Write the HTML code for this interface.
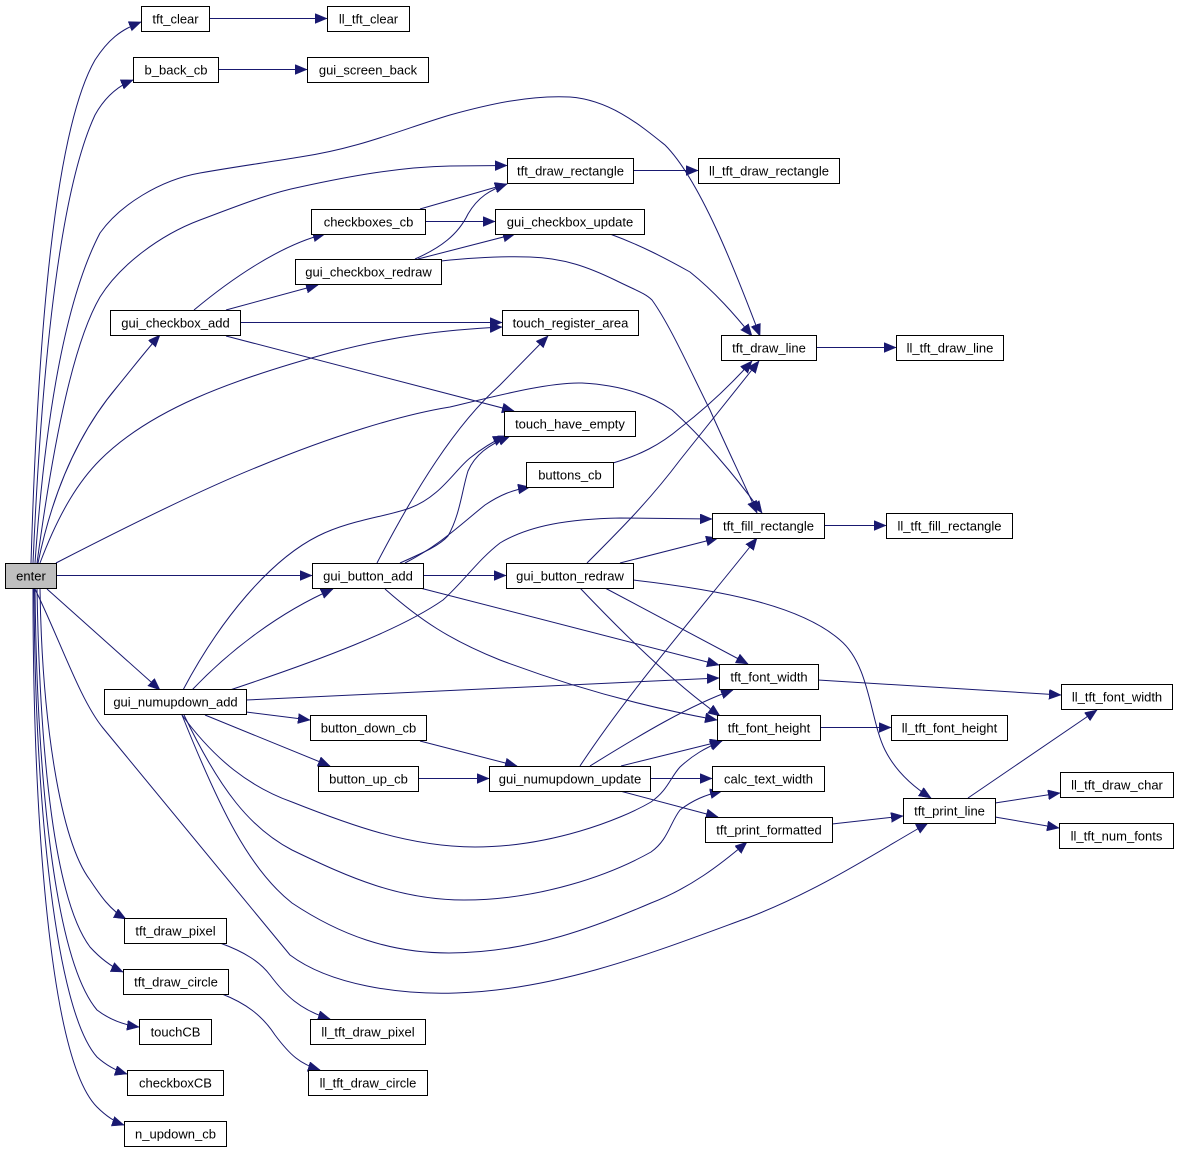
<!DOCTYPE html>
<html><head><meta charset="utf-8"><style>
html,body{margin:0;padding:0;background:#fff;}
svg{display:block;}
.e path{fill:none;stroke:#191970;stroke-width:1;}
.n rect{fill:#fff;stroke:#000;stroke-width:1;}
.n text{font-family:"Liberation Sans",Arial,sans-serif;font-size:13px;text-anchor:middle;fill:#000;}
</style></head><body>
<svg width="1179" height="1152" viewBox="0 0 1179 1152" xmlns="http://www.w3.org/2000/svg">
<defs>
<marker id="a" markerUnits="userSpaceOnUse" markerWidth="14" markerHeight="12" refX="12" refY="5" orient="auto">
<path d="M0,0 L12,5 L0,10 z" fill="#191970" stroke="#191970" stroke-width="0.5"/>
</marker>
</defs>
<rect width="1179" height="1152" fill="#fff"/>
<g class="e">
<path marker-end="url(#a)" d="M209,18.5 L327,18.5"/>
<path marker-end="url(#a)" d="M218,69.5 L307,69.5"/>
<path marker-end="url(#a)" d="M633,170.5 L698,170.5"/>
<path marker-end="url(#a)" d="M425,221.5 L495,221.5"/>
<path marker-end="url(#a)" d="M240,322.5 L502,322.5"/>
<path marker-end="url(#a)" d="M816,347.5 L896,347.5"/>
<path marker-end="url(#a)" d="M824,525.5 L886,525.5"/>
<path marker-end="url(#a)" d="M56,575.5 L312,575.5"/>
<path marker-end="url(#a)" d="M423,575.5 L506,575.5"/>
<path marker-end="url(#a)" d="M820,727.5 L891,727.5"/>
<path marker-end="url(#a)" d="M418,778.5 L489,778.5"/>
<path marker-end="url(#a)" d="M650,778.5 L712,778.5"/>
<path marker-end="url(#a)" d="M818,680 L1061,695"/>
<path marker-end="url(#a)" d="M968,798 L1097,710"/>
<path marker-end="url(#a)" d="M995,803 L1060,793"/>
<path marker-end="url(#a)" d="M995,817 L1059,828"/>
<path marker-end="url(#a)" d="M832,824 L903,816"/>
<path marker-end="url(#a)" d="M620,791 L718,817"/>
<path marker-end="url(#a)" d="M621,766 L722,741"/>
<path marker-end="url(#a)" d="M590,766 C640,735 690,705 733,690"/>
<path marker-end="url(#a)" d="M580,766 C630,690 700,610 757,538"/>
<path marker-end="url(#a)" d="M420,741 L517,766"/>
<path marker-end="url(#a)" d="M246,712 L310,720"/>
<path marker-end="url(#a)" d="M205,715 L330,766"/>
<path marker-end="url(#a)" d="M246,700 L719,678"/>
<path marker-end="url(#a)" d="M192,690 C230,650 280,612 333,589"/>
<path marker-end="url(#a)" d="M230,690 C320,660 400,630 443,600 C465,580 478,560 500,543 C530,525 570,519 620,518 L712,519"/>
<path marker-end="url(#a)" d="M183,690 C220,620 270,560 318,536 C350,520 385,517 410,508 C440,497 455,470 470,458 C480,450 492,442 505,436"/>
<path marker-end="url(#a)" d="M377,563 C415,490 455,425 500,385 L548,336"/>
<path marker-end="url(#a)" d="M400,563 C425,552 440,545 448,536 C460,515 462,490 468,471 C475,455 488,445 510,436"/>
<path marker-end="url(#a)" d="M405,563 C440,545 460,525 485,505 C500,495 512,490 530,487"/>
<path marker-end="url(#a)" d="M420,588 L719,665"/>
<path marker-end="url(#a)" d="M385,589 C420,620 450,640 500,660 C580,690 650,708 717,720"/>
<path marker-end="url(#a)" d="M620,563 L718,538"/>
<path marker-end="url(#a)" d="M587,563 C620,530 650,500 680,460 L759,361"/>
<path marker-end="url(#a)" d="M613,463 C640,455 660,445 680,428 C710,405 735,380 752,361"/>
<path marker-end="url(#a)" d="M605,588 L748,664"/>
<path marker-end="url(#a)" d="M580,588 C620,630 670,680 720,716"/>
<path marker-end="url(#a)" d="M633,580 C720,590 800,605 840,640 C870,665 870,720 885,750 C895,770 912,786 931,798"/>
<path marker-end="url(#a)" d="M194,310 C230,280 280,245 325,234"/>
<path marker-end="url(#a)" d="M226,310 L318,285"/>
<path marker-end="url(#a)" d="M226,336 L514,411"/>
<path marker-end="url(#a)" d="M420,209 L507,184"/>
<path marker-end="url(#a)" d="M415,259 C440,248 458,235 468,214 C478,197 490,190 507,184"/>
<path marker-end="url(#a)" d="M418,259 L515,234"/>
<path marker-end="url(#a)" d="M441,261 C470,258 500,256 530,257 C565,258 590,268 615,280 C635,290 645,293 652,300 C670,325 690,370 710,410 C730,455 745,485 757,513"/>
<path marker-end="url(#a)" d="M610,234 C640,245 665,258 690,272 C715,292 735,315 752,336"/>
<path marker-end="url(#a)" d="M31,563 C38,330 55,130 95,60 C108,40 120,30 141,22"/>
<path marker-end="url(#a)" d="M33,563 C42,360 60,190 95,115 C105,97 118,86 133,80"/>
<path marker-end="url(#a)" d="M35,563 C45,420 65,300 100,233 C120,205 160,180 200,173 C240,166 270,162 300,157 C360,148 400,130 450,115 C490,104 530,95 570,97 C610,100 640,125 665,145 C700,180 735,270 760,336"/>
<path marker-end="url(#a)" d="M37,563 C55,430 75,340 100,297 C120,265 160,235 200,220 C240,205 270,193 300,187 C350,176 400,167 450,166 L507,165.5"/>
<path marker-end="url(#a)" d="M38,563 C55,480 85,425 117,387 C135,365 148,348 160,335"/>
<path marker-end="url(#a)" d="M40,563 C60,510 80,480 100,460 C150,410 230,380 333,352 C390,337 440,330 502,327"/>
<path marker-end="url(#a)" d="M56,563 C120,530 200,490 260,466 C330,437 400,415 450,407 C500,395 550,382 582,383 C620,385 650,395 672,410 C700,435 735,475 762,513"/>
<path marker-end="url(#a)" d="M47,589 L160,690"/>
<path marker-end="url(#a)" d="M35,589 C60,640 80,700 103,728 L290,955 C330,985 400,995 456,993 C560,990 660,950 750,917 C820,890 880,850 928,823"/>
<path marker-end="url(#a)" d="M40,589 C42,720 60,840 90,880 C100,895 110,910 126,919"/>
<path marker-end="url(#a)" d="M37,589 C40,760 55,900 90,947 C100,958 110,966 123,972"/>
<path marker-end="url(#a)" d="M35,589 C37,780 55,960 97,1010 C110,1020 125,1025 139,1027"/>
<path marker-end="url(#a)" d="M34,589 C35,800 55,1010 97,1057 C107,1066 117,1071 127,1074"/>
<path marker-end="url(#a)" d="M33,589 C33,820 50,1060 97,1107 C107,1117 115,1122 124,1125"/>
<path marker-end="url(#a)" d="M220,943 C245,952 260,962 270,975 C285,995 300,1010 330,1019"/>
<path marker-end="url(#a)" d="M222,994 C245,1003 262,1015 275,1035 C290,1055 300,1064 320,1070"/>
<path marker-end="url(#a)" d="M182,715 C215,760 250,787 292,802 C350,825 410,847 475,847 C550,847 620,820 651,802 C668,790 670,778 680,767 C693,755 705,748 722,741"/>
<path marker-end="url(#a)" d="M184,715 C220,790 250,828 292,850 C350,878 400,900 464,900 C540,900 610,875 651,852 C668,840 670,823 680,810 C693,800 705,795 722,791"/>
<path marker-end="url(#a)" d="M182,715 C220,810 250,870 292,903 C340,935 390,953 449,953 C530,953 600,925 651,903 C690,888 720,865 747,842"/>
</g>
<g class="n">
<rect x="141.5" y="6.5" width="68" height="25"/><text x="175.5" y="23.5">tft_clear</text>
<rect x="327.5" y="6.5" width="82" height="25"/><text x="368.5" y="23.5">ll_tft_clear</text>
<rect x="133.5" y="57.5" width="85" height="25"/><text x="176" y="74.5">b_back_cb</text>
<rect x="307.5" y="57.5" width="121" height="25"/><text x="368" y="74.5">gui_screen_back</text>
<rect x="507.5" y="158.5" width="126" height="25"/><text x="570.5" y="175.5">tft_draw_rectangle</text>
<rect x="698.5" y="158.5" width="141" height="25"/><text x="769" y="175.5">ll_tft_draw_rectangle</text>
<rect x="311.5" y="209.5" width="114" height="25"/><text x="368.5" y="226.5">checkboxes_cb</text>
<rect x="495.5" y="209.5" width="149" height="25"/><text x="570" y="226.5">gui_checkbox_update</text>
<rect x="295.5" y="259.5" width="146" height="25"/><text x="368.5" y="276.5">gui_checkbox_redraw</text>
<rect x="110.5" y="310.5" width="130" height="25"/><text x="175.5" y="327.5">gui_checkbox_add</text>
<rect x="502.5" y="310.5" width="136" height="25"/><text x="570.5" y="327.5">touch_register_area</text>
<rect x="721.5" y="335.5" width="95" height="25"/><text x="769" y="352.5">tft_draw_line</text>
<rect x="896.5" y="335.5" width="107" height="25"/><text x="950" y="352.5">ll_tft_draw_line</text>
<rect x="504.5" y="411.5" width="131" height="25"/><text x="570" y="428.5">touch_have_empty</text>
<rect x="526.5" y="462.5" width="87" height="25"/><text x="570" y="479.5">buttons_cb</text>
<rect x="712.5" y="513.5" width="112" height="25"/><text x="768.5" y="530.5">tft_fill_rectangle</text>
<rect x="886.5" y="513.5" width="126" height="25"/><text x="949.5" y="530.5">ll_tft_fill_rectangle</text>
<rect x="5.5" y="563.5" width="51" height="25" style="fill:#bfbfbf"/><text x="31" y="580.5">enter</text>
<rect x="312.5" y="563.5" width="111" height="25"/><text x="368" y="580.5">gui_button_add</text>
<rect x="506.5" y="563.5" width="127" height="25"/><text x="570" y="580.5">gui_button_redraw</text>
<rect x="719.5" y="664.5" width="99" height="25"/><text x="769" y="681.5">tft_font_width</text>
<rect x="1061.5" y="684.5" width="111" height="25"/><text x="1117" y="701.5">ll_tft_font_width</text>
<rect x="104.5" y="689.5" width="142" height="25"/><text x="175.5" y="706.5">gui_numupdown_add</text>
<rect x="717.5" y="715.5" width="103" height="25"/><text x="769" y="732.5">tft_font_height</text>
<rect x="891.5" y="715.5" width="116" height="25"/><text x="949.5" y="732.5">ll_tft_font_height</text>
<rect x="310.5" y="715.5" width="116" height="25"/><text x="368.5" y="732.5">button_down_cb</text>
<rect x="318.5" y="766.5" width="100" height="25"/><text x="368.5" y="783.5">button_up_cb</text>
<rect x="489.5" y="766.5" width="161" height="25"/><text x="570" y="783.5">gui_numupdown_update</text>
<rect x="712.5" y="766.5" width="112" height="25"/><text x="768.5" y="783.5">calc_text_width</text>
<rect x="1060.5" y="772.5" width="113" height="25"/><text x="1117" y="789.5">ll_tft_draw_char</text>
<rect x="903.5" y="798.5" width="92" height="25"/><text x="949.5" y="815.5">tft_print_line</text>
<rect x="705.5" y="817.5" width="127" height="25"/><text x="769" y="834.5">tft_print_formatted</text>
<rect x="1059.5" y="823.5" width="114" height="25"/><text x="1116.5" y="840.5">ll_tft_num_fonts</text>
<rect x="124.5" y="918.5" width="102" height="25"/><text x="175.5" y="935.5">tft_draw_pixel</text>
<rect x="123.5" y="969.5" width="105" height="25"/><text x="176" y="986.5">tft_draw_circle</text>
<rect x="139.5" y="1019.5" width="72" height="25"/><text x="175.5" y="1036.5">touchCB</text>
<rect x="310.5" y="1019.5" width="115" height="25"/><text x="368" y="1036.5">ll_tft_draw_pixel</text>
<rect x="127.5" y="1070.5" width="96" height="25"/><text x="175.5" y="1087.5">checkboxCB</text>
<rect x="308.5" y="1070.5" width="119" height="25"/><text x="368" y="1087.5">ll_tft_draw_circle</text>
<rect x="124.5" y="1121.5" width="102" height="25"/><text x="175.5" y="1138.5">n_updown_cb</text>
</g>
</svg>
</body></html>
